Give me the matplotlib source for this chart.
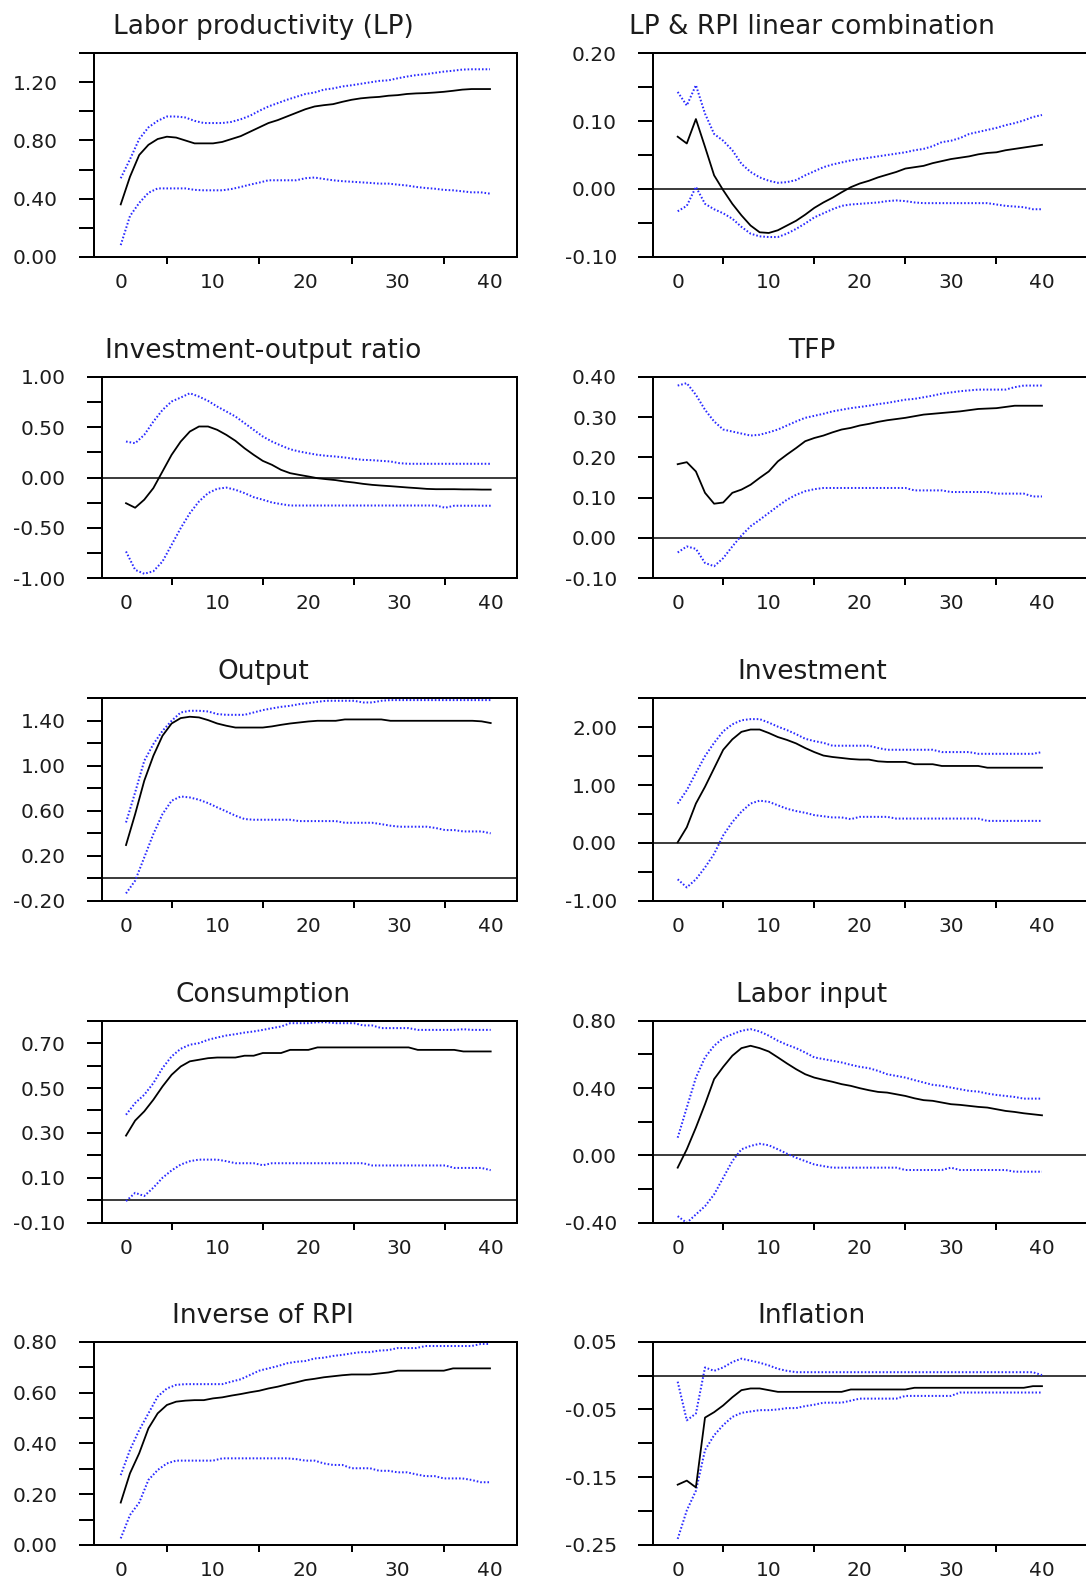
import matplotlib
matplotlib.use('Agg')
import matplotlib.pyplot as plt
from matplotlib.ticker import FixedLocator, FixedFormatter

plt.rcParams['font.family'] = ['DejaVu Sans']

# ---------------- data ----------------
horizon = list(range(41))

titles = ["Labor productivity (LP)", "LP & RPI linear combination",
          "Investment-output ratio", "TFP",
          "Output", "Investment",
          "Consumption", "Labor input",
          "Inverse of RPI", "Inflation"]

lp_mid = [0.36,0.55,0.70,0.77,0.81,0.826,0.82,0.80,0.78,0.78,0.78,
          0.79,0.81,0.83,0.86,0.89,0.92,0.94,0.965,0.99,1.015,
          1.034,1.043,1.05,1.066,1.08,1.09,1.096,1.10,1.108,1.112,
          1.12,1.124,1.126,1.13,1.135,1.142,1.15,1.154,1.154,1.154]
lp_up = [0.54,0.67,0.81,0.89,0.935,0.965,0.965,0.958,0.935,0.92,0.92,
         0.92,0.928,0.946,0.97,1.004,1.034,1.057,1.08,1.10,1.12,
         1.13,1.15,1.158,1.172,1.18,1.19,1.20,1.21,1.214,1.228,
         1.24,1.25,1.256,1.265,1.274,1.28,1.288,1.29,1.29,1.29]
lp_lo = [0.08,0.28,0.37,0.44,0.47,0.47,0.47,0.47,0.46,0.457,0.457,
         0.457,0.466,0.48,0.496,0.51,0.526,0.526,0.526,0.526,0.54,
         0.545,0.535,0.526,0.52,0.516,0.512,0.508,0.503,0.503,0.496,
         0.49,0.48,0.473,0.468,0.46,0.457,0.45,0.443,0.443,0.434]

lprpi_mid = [0.077,0.067,0.103,0.062,0.02,-0.002,-0.022,-0.039,-0.054,-0.064,-0.065,
             -0.061,-0.054,-0.047,-0.038,-0.028,-0.02,-0.013,-0.005,0.0025,0.008,
             0.012,0.017,0.021,0.025,0.03,0.032,0.034,0.038,0.041,0.044,
             0.046,0.048,0.051,0.053,0.054,0.057,0.059,0.061,0.063,0.065]
lprpi_up = [0.143,0.123,0.153,0.111,0.081,0.071,0.057,0.037,0.025,0.017,0.012,
            0.009,0.010,0.013,0.02,0.026,0.032,0.036,0.039,0.042,0.044,
            0.046,0.048,0.05,0.052,0.054,0.057,0.059,0.063,0.069,0.071,
            0.075,0.081,0.084,0.087,0.09,0.094,0.097,0.101,0.106,0.109]
lprpi_lo = [-0.033,-0.025,0.003,-0.022,-0.03,-0.036,-0.044,-0.056,-0.066,-0.070,-0.071,
            -0.071,-0.066,-0.059,-0.051,-0.042,-0.036,-0.03,-0.025,-0.023,-0.022,
            -0.021,-0.02,-0.018,-0.017,-0.018,-0.02,-0.021,-0.021,-0.021,-0.021,
            -0.021,-0.021,-0.021,-0.021,-0.023,-0.025,-0.026,-0.027,-0.03,-0.03]

ior_mid = [-0.255,-0.30,-0.22,-0.105,0.06,0.225,0.357,0.456,0.506,0.506,0.473,
           0.423,0.364,0.29,0.225,0.165,0.126,0.076,0.043,0.026,0.01,
           -0.007,-0.017,-0.026,-0.04,-0.05,-0.063,-0.073,-0.08,-0.086,-0.093,
           -0.1,-0.106,-0.113,-0.116,-0.116,-0.116,-0.118,-0.118,-0.12,-0.12]
ior_up = [0.357,0.34,0.423,0.555,0.67,0.754,0.793,0.836,0.803,0.76,0.704,
          0.655,0.605,0.539,0.473,0.407,0.357,0.317,0.28,0.258,0.241,
          0.225,0.215,0.208,0.198,0.185,0.175,0.172,0.165,0.159,0.142,
          0.136,0.136,0.136,0.136,0.136,0.136,0.136,0.136,0.136,0.136]
ior_lo = [-0.734,-0.916,-0.955,-0.93,-0.833,-0.668,-0.502,-0.354,-0.238,-0.155,-0.112,
          -0.10,-0.122,-0.155,-0.195,-0.22,-0.248,-0.264,-0.278,-0.278,-0.278,
          -0.278,-0.278,-0.278,-0.278,-0.278,-0.278,-0.278,-0.278,-0.278,-0.278,
          -0.278,-0.278,-0.278,-0.278,-0.30,-0.28,-0.28,-0.28,-0.28,-0.28]

tfp_mid = [0.183,0.188,0.165,0.112,0.085,0.088,0.112,0.12,0.132,0.149,0.165,
           0.19,0.207,0.223,0.24,0.248,0.254,0.262,0.269,0.273,0.279,
           0.283,0.288,0.292,0.295,0.298,0.302,0.306,0.308,0.31,0.312,
           0.314,0.317,0.32,0.321,0.322,0.325,0.328,0.328,0.328,0.328]
tfp_up = [0.378,0.384,0.355,0.318,0.289,0.269,0.264,0.259,0.254,0.256,0.262,
          0.269,0.279,0.289,0.298,0.303,0.308,0.314,0.318,0.322,0.325,
          0.328,0.332,0.335,0.339,0.343,0.345,0.349,0.353,0.358,0.361,
          0.364,0.366,0.368,0.368,0.368,0.368,0.374,0.378,0.378,0.378]
tfp_lo = [-0.036,-0.021,-0.027,-0.062,-0.070,-0.05,-0.021,0.006,0.029,0.045,0.062,
          0.079,0.095,0.107,0.116,0.121,0.124,0.124,0.124,0.124,0.124,
          0.124,0.124,0.124,0.124,0.124,0.118,0.118,0.118,0.118,0.114,
          0.114,0.114,0.114,0.114,0.11,0.11,0.11,0.11,0.103,0.103]

out_mid = [0.295,0.57,0.867,1.089,1.267,1.376,1.424,1.436,1.43,1.406,1.376,
           1.356,1.34,1.34,1.34,1.34,1.35,1.364,1.376,1.385,1.394,
           1.40,1.40,1.40,1.412,1.412,1.412,1.412,1.412,1.40,1.40,
           1.40,1.40,1.40,1.40,1.40,1.40,1.40,1.40,1.395,1.38]
out_up = [0.496,0.763,1.044,1.193,1.31,1.40,1.474,1.489,1.489,1.483,1.46,
          1.453,1.453,1.453,1.474,1.495,1.51,1.524,1.533,1.548,1.557,
          1.569,1.578,1.578,1.578,1.578,1.563,1.563,1.578,1.584,1.584,
          1.584,1.584,1.584,1.584,1.584,1.584,1.584,1.584,1.584,1.584]
out_lo = [-0.135,-0.022,0.185,0.393,0.57,0.689,0.727,0.718,0.698,0.668,0.63,
          0.594,0.556,0.526,0.52,0.52,0.52,0.52,0.52,0.508,0.508,
          0.508,0.508,0.508,0.493,0.493,0.493,0.493,0.481,0.467,0.458,
          0.458,0.458,0.458,0.446,0.428,0.428,0.416,0.416,0.416,0.399]

inv_mid = [0.01,0.27,0.68,0.97,1.29,1.61,1.79,1.92,1.96,1.96,1.90,
           1.83,1.78,1.72,1.64,1.57,1.51,1.485,1.468,1.45,1.44,
           1.44,1.41,1.40,1.40,1.40,1.36,1.36,1.36,1.33,1.33,
           1.33,1.33,1.33,1.30,1.30,1.30,1.30,1.30,1.30,1.30]
inv_up = [0.68,0.91,1.21,1.50,1.73,1.93,2.05,2.12,2.14,2.14,2.08,
          2.01,1.95,1.88,1.80,1.76,1.73,1.68,1.68,1.68,1.68,
          1.68,1.64,1.61,1.61,1.61,1.61,1.61,1.61,1.57,1.57,
          1.57,1.57,1.54,1.54,1.54,1.54,1.54,1.54,1.54,1.57]
inv_lo = [-0.63,-0.77,-0.63,-0.425,-0.19,0.13,0.36,0.54,0.68,0.73,0.71,
          0.65,0.59,0.55,0.52,0.48,0.46,0.44,0.44,0.41,0.45,
          0.45,0.45,0.45,0.42,0.42,0.42,0.42,0.42,0.42,0.42,
          0.42,0.42,0.42,0.38,0.38,0.38,0.38,0.38,0.38,0.38]

cons_mid = [0.288,0.355,0.396,0.448,0.507,0.559,0.596,0.619,0.626,0.633,0.636,
            0.636,0.636,0.644,0.644,0.656,0.656,0.656,0.67,0.67,0.67,
            0.681,0.681,0.681,0.681,0.681,0.681,0.681,0.681,0.681,0.681,
            0.681,0.67,0.67,0.67,0.67,0.67,0.663,0.663,0.663,0.663]
cons_up = [0.381,0.433,0.47,0.522,0.589,0.641,0.675,0.693,0.70,0.715,0.725,
           0.734,0.74,0.747,0.752,0.759,0.767,0.774,0.789,0.789,0.789,
           0.793,0.793,0.789,0.789,0.789,0.779,0.779,0.767,0.767,0.767,
           0.767,0.759,0.759,0.759,0.759,0.759,0.762,0.759,0.759,0.759]
cons_lo = [-0.004,0.033,0.019,0.056,0.10,0.133,0.159,0.174,0.181,0.181,0.181,
           0.174,0.165,0.165,0.165,0.156,0.165,0.165,0.165,0.165,0.165,
           0.165,0.165,0.165,0.165,0.165,0.165,0.155,0.155,0.155,0.155,
           0.155,0.155,0.155,0.155,0.155,0.144,0.144,0.144,0.144,0.134]

lab_mid = [-0.073,0.036,0.165,0.304,0.453,0.526,0.592,0.637,0.651,0.637,0.617,
           0.582,0.546,0.512,0.482,0.462,0.449,0.437,0.423,0.413,0.399,
           0.387,0.377,0.373,0.363,0.353,0.339,0.328,0.324,0.314,0.304,
           0.30,0.294,0.288,0.284,0.274,0.264,0.258,0.25,0.244,0.238]
lab_up = [0.105,0.284,0.462,0.582,0.651,0.697,0.72,0.74,0.75,0.736,0.711,
          0.681,0.657,0.637,0.611,0.582,0.572,0.562,0.552,0.538,0.526,
          0.518,0.502,0.482,0.472,0.462,0.447,0.433,0.419,0.413,0.403,
          0.393,0.383,0.379,0.367,0.359,0.353,0.347,0.337,0.337,0.337]
lab_lo = [-0.361,-0.401,-0.351,-0.302,-0.232,-0.133,-0.034,0.036,0.056,0.069,0.06,
          0.036,0.01,-0.014,-0.034,-0.054,-0.064,-0.073,-0.073,-0.073,-0.073,
          -0.073,-0.073,-0.073,-0.073,-0.087,-0.087,-0.087,-0.087,-0.087,-0.073,
          -0.087,-0.087,-0.087,-0.087,-0.087,-0.087,-0.097,-0.097,-0.097,-0.097]

rpi_mid = [0.167,0.282,0.361,0.459,0.518,0.551,0.564,0.568,0.57,0.57,0.577,
           0.581,0.588,0.594,0.601,0.607,0.616,0.623,0.632,0.64,0.649,
           0.654,0.66,0.664,0.668,0.671,0.671,0.671,0.675,0.679,0.686,
           0.686,0.686,0.686,0.686,0.686,0.695,0.695,0.695,0.695,0.695]
rpi_up = [0.275,0.374,0.452,0.518,0.584,0.616,0.63,0.633,0.633,0.633,0.633,
          0.633,0.643,0.652,0.669,0.686,0.695,0.704,0.715,0.721,0.724,
          0.734,0.737,0.744,0.748,0.754,0.759,0.759,0.765,0.767,0.775,
          0.775,0.775,0.783,0.783,0.783,0.783,0.783,0.783,0.791,0.791]
rpi_lo = [0.026,0.118,0.167,0.256,0.295,0.321,0.332,0.332,0.332,0.332,0.332,
          0.341,0.341,0.341,0.341,0.341,0.341,0.341,0.341,0.338,0.332,
          0.332,0.321,0.315,0.315,0.302,0.302,0.302,0.292,0.292,0.286,
          0.286,0.278,0.271,0.271,0.262,0.262,0.262,0.256,0.247,0.247]

inf_mid = [-0.161,-0.155,-0.165,-0.062,-0.054,-0.044,-0.032,-0.0215,-0.019,-0.019,-0.0215,
           -0.024,-0.024,-0.024,-0.024,-0.024,-0.024,-0.024,-0.024,-0.0205,-0.0205,
           -0.0205,-0.0205,-0.0205,-0.0205,-0.0205,-0.018,-0.018,-0.018,-0.018,-0.018,
           -0.018,-0.018,-0.018,-0.018,-0.018,-0.018,-0.018,-0.018,-0.0156,-0.0156]
inf_up = [-0.009,-0.066,-0.056,0.012,0.007,0.012,0.020,0.025,0.022,0.019,0.015,
          0.010,0.007,0.005,0.005,0.005,0.005,0.005,0.005,0.005,0.005,
          0.005,0.005,0.005,0.005,0.005,0.005,0.005,0.005,0.005,0.005,
          0.005,0.005,0.005,0.005,0.005,0.005,0.005,0.005,0.005,0.0007]
inf_lo = [-0.241,-0.199,-0.17,-0.110,-0.088,-0.073,-0.061,-0.055,-0.053,-0.051,-0.051,
          -0.05,-0.048,-0.048,-0.045,-0.043,-0.04,-0.04,-0.04,-0.037,-0.034,
          -0.034,-0.034,-0.034,-0.034,-0.030,-0.030,-0.030,-0.030,-0.030,-0.030,
          -0.025,-0.025,-0.025,-0.025,-0.025,-0.025,-0.025,-0.025,-0.025,-0.025]

# y-axis ticks (all tick positions) and their labels ('' = unlabeled tick)
lp_ticks = [0.0,0.2,0.4,0.6,0.8,1.0,1.2,1.4]
lp_labels = ["0.00","","0.40","","0.80","","1.20",""]
lprpi_ticks = [-0.10,-0.05,0.0,0.05,0.10,0.15,0.20]
lprpi_labels = ["-0.10","","0.00","","0.10","","0.20"]
ior_ticks = [-1.0,-0.75,-0.5,-0.25,0.0,0.25,0.5,0.75,1.0]
ior_labels = ["-1.00","","-0.50","","0.00","","0.50","","1.00"]
tfp_ticks = [-0.1,0.0,0.1,0.2,0.3,0.4]
tfp_labels = ["-0.10","0.00","0.10","0.20","0.30","0.40"]
out_ticks = [-0.2,0.0,0.2,0.4,0.6,0.8,1.0,1.2,1.4,1.6]
out_labels = ["-0.20","","0.20","","0.60","","1.00","","1.40",""]
inv_ticks = [-1.0,-0.5,0.0,0.5,1.0,1.5,2.0,2.5]
inv_labels = ["-1.00","","0.00","","1.00","","2.00",""]
cons_ticks = [-0.1,0.0,0.1,0.2,0.3,0.4,0.5,0.6,0.7,0.8]
cons_labels = ["-0.10","","0.10","","0.30","","0.50","","0.70",""]
lab_ticks = [-0.4,-0.2,0.0,0.2,0.4,0.6,0.8]
lab_labels = ["-0.40","","0.00","","0.40","","0.80"]
rpi_ticks = [0.0,0.1,0.2,0.3,0.4,0.5,0.6,0.7,0.8]
rpi_labels = ["0.00","","0.20","","0.40","","0.60","","0.80"]
inf_ticks = [-0.25,-0.20,-0.15,-0.10,-0.05,0.0,0.05]
inf_labels = ["-0.25","","-0.15","","-0.05","","0.05"]

x_ticks = [0, 10, 20, 30, 40]
x_labels = ["0", "10", "20", "30", "40"]
x_minor = [5, 15, 25, 35]

series = [
    (lp_mid, lp_up, lp_lo, lp_ticks, lp_labels),
    (lprpi_mid, lprpi_up, lprpi_lo, lprpi_ticks, lprpi_labels),
    (ior_mid, ior_up, ior_lo, ior_ticks, ior_labels),
    (tfp_mid, tfp_up, tfp_lo, tfp_ticks, tfp_labels),
    (out_mid, out_up, out_lo, out_ticks, out_labels),
    (inv_mid, inv_up, inv_lo, inv_ticks, inv_labels),
    (cons_mid, cons_up, cons_lo, cons_ticks, cons_labels),
    (lab_mid, lab_up, lab_lo, lab_ticks, lab_labels),
    (rpi_mid, rpi_up, rpi_lo, rpi_ticks, rpi_labels),
    (inf_mid, inf_up, inf_lo, inf_ticks, inf_labels),
]

# ---------------- layout (pixels) ----------------
W, H = 1086, 1585
DPI = 100
fig = plt.figure(figsize=(W / DPI, H / DPI), dpi=DPI)

row_px = [(53.3, 256.7), (376.7, 578.3), (698.3, 900.7), (1020.7, 1222.7), (1341.7, 1545.0)]
# left column: (left_px, right_px, xlim)
left_col = [(93.5, 516.5, (-2.95, 42.87)),
            (101.5, 516.5, (-2.69, 42.83)),
            (101.5, 516.5, (-2.69, 42.83)),
            (101.5, 516.5, (-2.69, 42.83)),
            (93.5, 516.5, (-2.95, 42.87))]
right_col = (653.0, 1094.0, (-2.71, 45.71))
title_cx = [263, 812]

TXT = '#1c1c1c'
PX = 72.0 / DPI  # points per pixel

for i, (mid, up, lo, yt, yl) in enumerate(series):
    r, c = divmod(i, 2)
    top, bot = row_px[r]
    if c == 0:
        lpx, rpx, xl = left_col[r]
    else:
        lpx, rpx, xl = right_col
    ax = fig.add_axes([lpx / W, 1 - bot / H, (rpx - lpx) / W, (bot - top) / H])
    ax.set_xlim(*xl)
    ax.set_ylim(yt[0], yt[-1])

    if yt[0] < 0 < yt[-1]:
        ax.axhline(0, color='black', lw=1.5 * PX, zorder=1)

    ax.plot(horizon, up, color='#2a2aff', lw=2.0 * PX, ls=(0, (0.8, 1.0)), zorder=2)
    ax.plot(horizon, lo, color='#2a2aff', lw=2.0 * PX, ls=(0, (0.8, 1.0)), zorder=2)
    ax.plot(horizon, mid, color='black', lw=1.8 * PX, zorder=3)

    for s in ax.spines.values():
        s.set_linewidth(2.0 * PX)
        s.set_color('black')

    ax.yaxis.set_major_locator(FixedLocator(yt))
    ax.yaxis.set_major_formatter(FixedFormatter(yl))
    ax.tick_params(axis='y', which='major', direction='out', length=15 * PX,
                   width=2.0 * PX, pad=21 * PX, labelsize=14.5, labelcolor=TXT,
                   left=True, right=False)
    ax.xaxis.set_major_locator(FixedLocator(x_ticks))
    ax.xaxis.set_major_formatter(FixedFormatter(x_labels))
    ax.xaxis.set_minor_locator(FixedLocator(x_minor))
    ax.tick_params(axis='x', which='major', direction='out', length=0,
                   pad=16 * PX, labelsize=14.5, labelcolor=TXT, top=False)
    ax.tick_params(axis='x', which='minor', direction='out', length=7 * PX,
                   width=2.0 * PX, top=False)

    fig.text(title_cx[c] / W, 1 - (top - 19) / H, titles[i], ha='center',
             va='baseline', fontsize=19, color=TXT)

fig.savefig('out.png', dpi=DPI)
